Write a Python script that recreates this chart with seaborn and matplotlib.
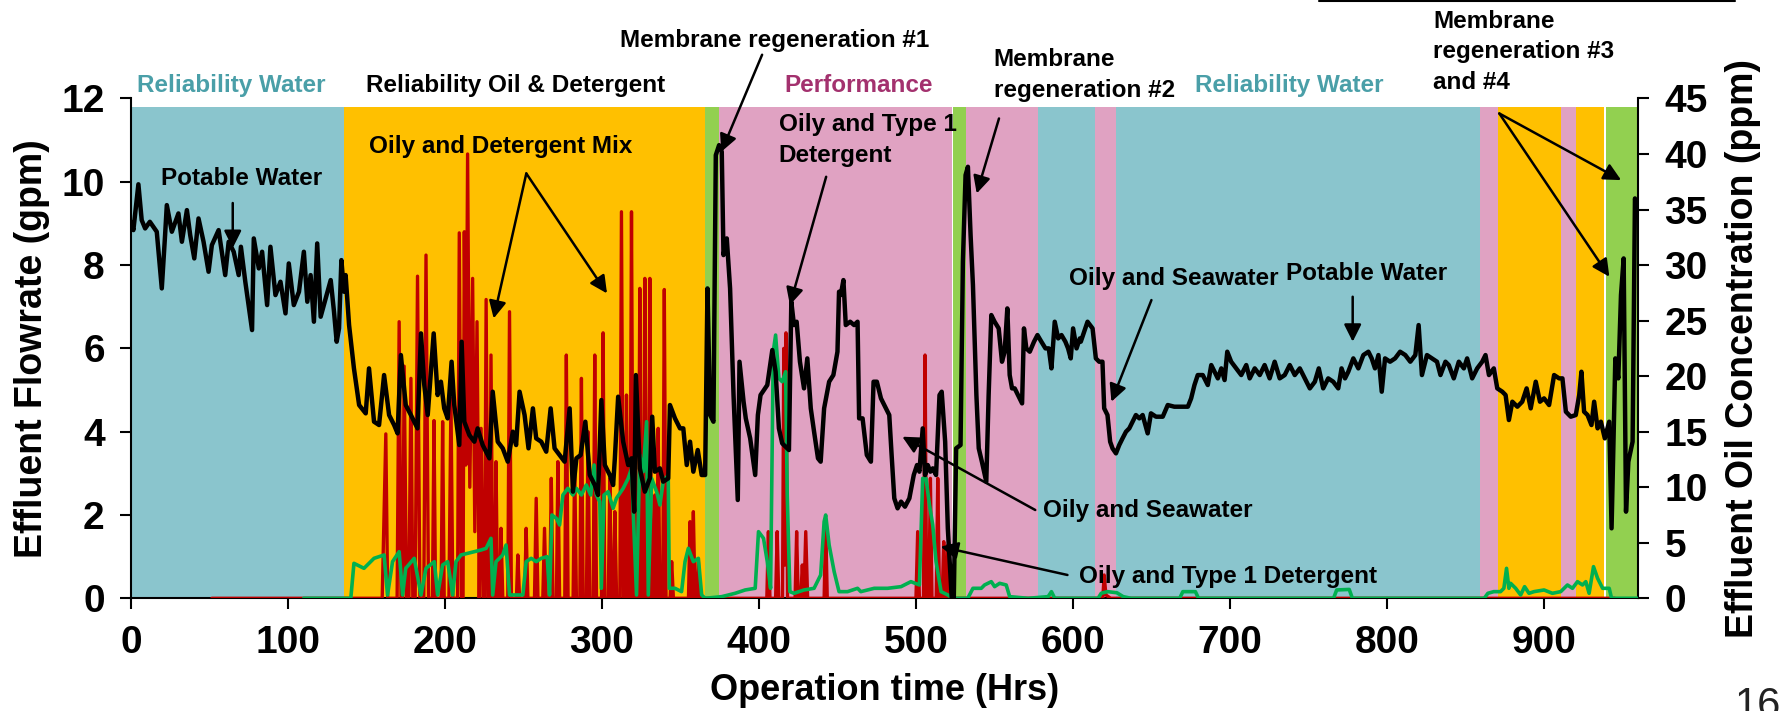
import numpy as np
import matplotlib
matplotlib.use("Agg")
import matplotlib.pyplot as plt
import seaborn as sns
from matplotlib import font_manager

# background phases (hours)
band_start = [0, 135.7, 365.7, 374.6, 523.6, 532, 577.6, 614, 627.5, 859.2, 870.9, 911, 920.3, 939.7]
band_end = [135.7, 365.7, 374.6, 523, 532, 577.6, 614, 627.5, 859.2, 870.9, 911, 920.3, 938.6, 959]
band_kind = ["water", "oil", "regen", "perf", "regen", "perf", "water", "perf", "water",
             "perf", "oil", "perf", "oil", "regen"]
band_color = {"water": "#8AC5CD", "oil": "#FFC000", "regen": "#92D050", "perf": "#E0A2C2"}

# effluent flowrate (gpm) - black
flow_t = [0, 1.5, 4.7, 6.8, 9, 12, 16.4, 19.6, 21.7, 22.8, 26, 30.2, 32.4, 35.6, 37.7, 40.3, 43, 46.2,
          49.4, 51.5, 55.8, 60, 62.2, 65.4, 68.6, 70, 72.8, 77.1, 78.2, 81.4, 83.5, 86.7, 88.8, 92,
          95.2, 98.4, 100.5, 103.7, 107, 110.1, 112.3, 114.4, 116.5, 118.6, 120.8, 124, 127.2, 129.3,
          131, 132.5, 134, 135.7, 136.7, 138.9, 142, 145.3, 149.5, 151.6, 154.8, 158, 161.2, 164.4,
          167.6, 169.8, 171.9, 175, 178.3, 182.5, 184.7, 186.8, 189, 192.8, 195.3,
          197.4, 199.5, 201.7, 204.2, 205.9, 209.1, 210.6, 212.3, 215.5, 218.7, 220.8, 224, 228.3,
          230.4, 233.6, 236.8, 240, 243.2, 245.3, 247.5, 250.7, 253.2, 256, 258.1, 261.3, 264.5,
          267.3, 269.8, 273, 276.2, 279.4, 281.5, 283.7, 286.4, 289.4, 292.2, 295.4, 297.5, 299.6,
          301.8, 305, 307.1, 308.2, 310.3, 313.5, 316.7, 318.8, 320.5, 321.6, 324.1, 327.3, 330.5,
          332, 333.7, 336.9, 339, 342.2, 343.3, 346.5, 349.7, 351.8, 354, 356.1, 358.2, 361, 363.5,
          365.7, 367.2, 368.9, 371, 372.5, 374.6, 376.3, 377.4, 379.5, 381.6, 383.8, 386.5, 387.6,
          390.2, 391.6, 394.4, 397.6, 399.3,
          401, 405.3, 408.5, 410.6, 412.7, 414.8, 419.1, 420.6, 422.3, 424, 426.1, 428.7, 430.8,
          433, 435.1, 437.6, 439.3, 441.5, 444.7, 447.4, 450, 451, 452.1, 453.8, 455.3, 458.1,
          460.6, 462.8, 463.8, 466, 468.7, 471.3, 473, 475.1, 477.7, 480.9, 483, 484.5, 486.2,
          488.3, 490.5, 493, 495.8, 498.6, 500.7, 502.2, 504.3, 505.8, 507.5, 509.2, 510.7, 512.8,
          515, 516.4, 518.6, 520.3, 522.8, 524.1, 525.6, 528.4, 529.9, 531.6, 533.1, 534.8, 536.3,
          538.5, 540, 542, 544.8, 546.3, 548, 550.1, 552.7, 554.8, 556.5, 558.2, 559.7, 561.2,
          562.9, 565, 567.6, 568.8, 570.3, 572.5, 575.2, 577.4, 579.9, 582.5, 584.6, 586.3, 588.4,
          590.6, 592.7, 595.2, 596.9, 598.6, 600.1, 602.3, 604.4,
          605, 609.3, 612.5, 614.6, 616.7, 618.8, 619.9, 622, 623.7, 625.2, 627.4, 629.5, 631.6,
          633.8, 635.9, 638, 640.1, 642.3, 644.4, 647.6, 649.7, 652.9, 657.2, 660.4, 664.6, 668.9,
          673.2, 675.3, 677.4, 679.5, 682.7, 685.9, 688.1, 690.2, 692.3, 694.5, 696.6, 698.3,
          700.8, 704, 707.2, 710.4, 712.6, 715.8, 719, 722.1, 725.3, 728.5, 731.7, 734.9, 738.1,
          741.3, 744.5, 747.7, 750.9, 754.1, 756.6, 759.4, 762.6, 765.8, 769, 771.1, 773.3, 775.4,
          778.6, 781.8, 785, 788.2, 790.3, 792.4, 794.6, 796.7, 798.8, 802, 805.2, 808.4,
          811.7, 814.9, 818.1, 820.2, 822.3, 825.5, 828.7, 831.9, 834.1, 837.3, 839.4, 842.6,
          845.8, 849, 851.1, 854.3, 857.5, 860.7, 862.8, 865, 868.1, 870.3, 873.5, 875.6, 877.7,
          879.9, 883.1, 886.2, 889, 891.6, 894.8, 897.5, 900.1, 903.3, 906.5, 909.7, 911.8, 914,
          917.1, 920.3, 922.5, 923.9, 925.6, 927.8, 930.3, 932, 934.2, 936.3, 938.8, 941.6, 943.1,
          945.5, 947.4, 949.1, 950.8, 952.3, 953.8, 956.5, 958, 959.7]
flow_gpm = [9.04, 8.84, 9.94, 9.08, 8.88, 9.04, 8.8, 7.44, 8.72, 9.44, 8.8, 9.24, 8.56, 9.32, 8.72,
            8.16, 9.12, 8.56, 7.84, 8.48, 8.84, 7.76, 8.56, 8.32, 7.76, 8.44, 7.6, 6.44, 8.64, 7.92,
            8.32, 7.04, 8.44, 7.28, 7.6, 6.84, 8.04, 7.04, 7.36, 8.32, 7.12, 7.76, 6.64, 8.52, 6.76,
            7.2, 7.64, 6.88, 6.16, 6.48, 8.12, 7.36, 7.76, 6.56, 5.52, 4.64, 4.44, 5.52, 4.24, 4.16,
            5.36, 4.4, 4.16, 3.96, 5.84, 4.64, 4.4, 4.08, 6.36, 5.12, 4.4, 6.36, 4.88,
            5.2, 4.56, 4.32, 5.68, 4.64, 3.68, 6.16, 4.24, 3.92, 3.76, 4.08, 3.68, 3.36, 4.96, 3.76,
            3.6, 3.28, 4.0, 3.68, 4.96, 4.4, 3.6, 4.56, 3.84, 3.76, 3.52, 4.56, 3.6, 3.44, 3.28,
            4.56, 2.56, 3.36, 3.44, 4.24, 2.96, 2.72, 2.48, 4.76, 3.2, 2.96, 2.72, 3.36, 4.84, 3.76,
            3.2, 3.36, 2.08, 5.36, 3.12, 2.56, 2.88, 4.36, 3.04, 3.12, 2.8, 2.88, 4.64, 4.32, 4.08,
            4.08, 3.2, 3.76, 3.04, 3.56, 2.96, 2.96, 7.44, 4.4, 4.24, 10.64, 10.88, 10.72, 8.24,
            8.64, 7.44, 4.88, 2.36, 5.68, 4.72, 4.32, 3.84, 2.96, 4.4,
            4.88, 5.12, 5.96, 5.44, 4.08, 3.72, 3.56, 7.12, 6.56, 6.64, 5.68, 5.04, 5.76, 4.56,
            4.0, 3.36, 3.28, 4.56, 5.2, 5.36, 5.92, 7.36, 7.28, 7.64, 6.56, 6.64, 6.56, 6.64, 4.32,
            4.32, 3.44, 3.28, 5.2, 5.2, 4.8, 4.56, 4.4, 3.44, 2.4, 2.16, 2.32, 2.2, 2.4, 2.96, 3.2,
            3.04, 4.08, 2.96, 3.2, 3.04, 3.12, 2.96, 4.88, 4.96, 3.76, 1.68, 0.0, 0.0, 3.6, 3.68,
            8.08, 10.16, 10.36, 8.72, 7.52, 4.88, 3.6, 3.28, 2.8, 4.88, 6.8, 6.64, 6.48, 5.68, 5.92,
            6.96, 5.36, 5.04, 5.04, 4.88, 4.68, 6.48, 6.0, 5.92, 6.16, 6.32, 6.16, 6.0, 6.0, 5.52,
            6.64, 6.24, 6.32, 6.16, 6.0, 5.76, 6.48, 6.0, 6.24,
            6.16, 6.64, 6.48, 5.76, 5.68, 5.68, 4.56, 4.4, 3.76, 3.6, 3.48, 3.68, 3.84, 4.0, 4.08,
            4.24, 4.4, 4.32, 4.4, 3.96, 4.44, 4.36, 4.36, 4.64, 4.6, 4.6, 4.6, 4.8, 5.12, 5.36,
            5.36, 5.12, 5.6, 5.44, 5.28, 5.52, 5.24, 5.92, 5.68, 5.52, 5.36, 5.6, 5.28, 5.52, 5.36,
            5.6, 5.28, 5.68, 5.28, 5.36, 5.6, 5.36, 5.52, 5.28, 5.04, 5.2, 5.52, 5.04, 5.28, 5.2,
            5.04, 5.52, 5.28, 5.44, 5.76, 5.52, 5.84, 5.92, 5.76, 5.52, 5.84, 4.96, 5.76, 5.68,
            5.76, 5.92,
            5.84, 5.68, 5.84, 6.56, 5.36, 5.84, 5.76, 5.68, 5.36, 5.68, 5.6, 5.28, 5.68, 5.52, 5.76,
            5.28, 5.52, 5.68, 5.84, 5.36, 5.52, 5.04, 4.96, 4.88, 4.28, 4.72, 4.6, 4.72, 5.04, 4.56,
            5.2, 4.72, 4.8, 4.64, 5.36, 5.28, 5.28, 4.48, 4.36, 4.4, 4.88, 5.44, 4.48, 4.4, 4.16,
            4.72, 4.08, 4.24, 3.84, 4.24, 1.68, 5.76, 5.28, 7.28, 8.16, 2.08, 3.28, 3.76, 9.6, 9.36]

# effluent oil concentration (ppm) - red
oil_t = [51.5, 160, 162.3, 163.5, 169.5, 170.8, 172, 173, 174, 175.5, 177, 178.3, 179.5, 181, 182.5,
         184, 186.5, 187.9, 189.5, 192, 193, 194, 197.5, 198.5, 199.5, 202.5, 203.8, 205, 208,
         209.1, 210.5, 211.5, 212.3, 213.3, 214.4, 215.8, 217.6, 219, 220.4, 221.8, 223, 224.2,
         225.2, 226.2, 227.4, 228.3, 229.3, 230.5, 231.5, 232.5, 233.5, 234.8, 235.7, 236.8, 240,
         241.1, 242.3, 245.5, 246.4, 247.5, 250.7, 251.7, 252.8, 257, 258.1, 259.2, 262.3, 263.4,
         264.5, 266.7, 267.7, 268.8, 271, 271.9, 273, 276.3, 277.3, 278.4, 281.6, 282.6, 283.7,
         285.9, 286.9, 288, 290.1, 291.1, 292.2, 294.4, 295.4, 296.5, 299.7, 300.7, 301.8, 304,
         305, 306, 307.2, 308.2, 309.3, 311.4, 312.4, 313.6, 314.6, 315.6, 316.7, 317.8, 318.8,
         319.9, 320.9, 322, 323.1, 324.1, 325.2, 326.3, 327.3, 328.4, 329.5, 330.5, 331.6, 332.7,
         333.7, 334.8, 335.8, 336.9, 338.7, 339.7, 340.8, 343.4, 344.4, 345.5, 355.1, 356.1,
         357.2, 358.2, 359.3, 360.4, 361.4, 362.5, 405, 406, 407, 410.6, 411.6, 412.6, 415,
         415.8, 416.5, 417.2, 418.2, 423, 424, 425, 426.6, 427.6, 428.6, 429.8, 431, 441.5,
         442.5, 443.5, 500, 501.1, 502.2, 504.8, 505.8, 506.8, 508.2, 509.2, 510.2, 512.9,
         513.9, 515, 516.7, 517.7, 518.7, 519.3, 520.3, 521.3, 619, 619.9, 621, 624, 945]
oil_ppm = [0, 0, 14.8, 0, 0, 24.9, 0, 0, 20.9, 0, 0, 19.8, 0, 0, 29.0, 0, 0, 30.9, 0, 0, 16.0, 0,
           0, 15.9, 0, 0, 18.0, 0, 0, 32.9, 0, 0, 33.0, 12.0, 40.0, 10.0, 28.8, 6.0, 24.9, 0, 15.3,
           0, 0, 26.9, 0, 0, 21.9, 0, 0, 12.3, 0, 0, 6.3, 0, 0, 25.8, 0, 0, 3.9, 0, 0, 6.3, 0, 0,
           9.0, 0, 0, 6.3, 0, 0, 10.8, 0, 0, 12.3, 0, 0, 21.9, 0, 0, 12.3, 0, 0, 19.8, 0, 0, 15.0,
           0, 0, 21.9, 0, 0, 23.9, 0, 0, 10.8, 0, 0, 7.8, 0, 0, 34.8, 0, 0, 18.3, 0, 0, 34.8, 0,
           15.3, 0, 0, 27.9, 0, 0, 28.8, 0, 0, 28.8, 0, 0, 9.3, 0, 15.3, 0, 0, 27.8, 0, 0, 3.3, 0,
           0, 6.9, 0, 7.8, 0, 0, 3.3, 0, 0, 6.0, 0, 0, 6.0, 0, 0, 22.5, 3.0, 23.9, 0, 0, 6.0, 0,
           0, 3.0, 0, 6.0, 0, 0, 6.9, 0, 0, 6.0, 0, 0, 21.9, 0, 0, 10.8, 0, 0, 10.8, 0, 0, 5.1, 0,
           0, 4.8, 0, 0, 2.1, 0.3, 0, 0]

# second concentration trace (ppm) - green
det_t = [110, 140, 142, 148.4, 154.8, 161.2, 163.4, 166.6, 170.8, 173, 175, 180.4, 184.7, 187.9,
         193.2, 195.3, 198.5, 201.7, 204.9, 207, 210.2, 214.4, 218.7, 223, 226.2, 229.3, 230.4,
         232.5, 236.8, 238.9, 241.1, 249.6, 251.7, 254.9, 258.1, 261.3, 265.1, 266.6, 268.1,
         270.9, 273, 275.1, 278.3, 281.5, 283.7, 286.9, 290, 292.8, 295, 296.4, 298.6, 299.6,
         301.3, 303.9, 307.1, 309.2, 313.5, 316.7, 318.8, 322, 324.1, 326.3, 328.4, 329.5,
         331.6, 334.8, 336.9, 339, 342.2, 342.9, 346.5, 350.7, 352.9, 355, 358.2, 361.4, 363.5,
         365.7, 376.3, 384.8, 391.2, 397.6, 399.7, 402.9, 405.3, 407.4, 409.1, 410.6, 412.7,
         414.8, 417, 418, 419.7, 422.3, 428.7, 435.1, 439.3, 441.5, 442.5, 444.7, 447.9, 451,
         456.4, 462.8, 464.9, 473.4, 481.9, 490.5, 496.8, 502.2, 504.3, 506.4, 508.6, 510.7,
         512.8, 516, 520.3, 523.5, 533, 536.3, 541.6, 543.7, 548, 550.1, 553.3, 557.5, 559.7,
         571.4, 584.2, 586.3, 588.4, 616, 618, 622, 628, 632, 637, 668, 670, 678, 680, 766, 768,
         776, 778, 862, 864.3, 868.1, 872.4, 874.5, 876.2, 877.7, 878.8, 882, 885.2, 887.7,
         890.5, 893.7, 900.1, 905.4, 910.7, 915, 918.2, 921.4, 924.6, 926.7, 928.8, 931.6,
         934.2, 937.4, 941.6, 943.1, 960]
det_ppm = [0, 0, 3.15, 2.7, 3.6, 3.9, 0.3, 3.3, 4.2, 0.3, 2.7, 3.6, 0.3, 2.7, 3.3, 0.3, 3.0, 3.3,
           0.3, 3.3, 3.9, 4.05, 4.2, 4.35, 4.5, 5.4, 0.3, 3.3, 3.9, 4.8, 0.3, 0.3, 3.3, 3.6, 3.3,
           3.6, 3.75, 0.3, 7.5, 7.2, 6.6, 9.3, 9.9, 9.3, 9.9, 9.3, 10.2, 9.3, 12.0, 9.3, 8.7, 0.9,
           9.3, 9.6, 8.1, 9.0, 9.9, 10.8, 11.7, 0.3, 12.9, 11.4, 15.9, 0.3, 10.8, 9.6, 8.4, 10.5,
           11.1, 0.9, 0.9, 0.6, 3.3, 4.5, 3.3, 3.6, 0.3, 0, 0.15, 0.45, 0.75, 0.9, 6.0, 5.4, 3.3,
           0.9, 22.2, 23.7, 19.8, 19.5, 20.4, 9.3, 0.6, 0.45, 0.75, 0.9, 2.1, 6.9, 7.5, 4.8, 2.4,
           0.6, 0.6, 0.9, 0.6, 0.9, 0.9, 1.05, 1.5, 1.2, 10.8, 10.8, 8.4, 6.6, 3.3, 0.6, 0.3, 0,
           0, 0.9, 0.9, 1.2, 1.5, 1.05, 1.35, 1.2, 0.15, 0, 0.15, 0.6, 0, 0, 0.45, 0.6, 0.5,
           0.15, 0, 0, 0.6, 0.6, 0, 0, 0.75, 0.8, 0, 0, 0.45, 0.6, 0.6, 0.9, 2.7, 0.9, 1.35, 0.9,
           0.3, 1.05, 0.45, 0.6, 0.75, 0.45, 0.6, 1.2, 0.9, 1.5, 1.2, 1.5, 0.45, 2.85, 1.8, 0.9,
           0.9, 0, 0]

PPM_PER_GPM = 45 / 12

sns.set_theme(style="ticks")
names = {f.name for f in font_manager.fontManager.ttflist}
NARROW = "Liberation Sans Narrow" if "Liberation Sans Narrow" in names else "Liberation Sans"
NOTE_SIZE = 21 if NARROW == "Liberation Sans Narrow" else 17.5
plt.rcParams["font.family"] = ["Liberation Sans", "DejaVu Sans"]
plt.rcParams["font.weight"] = "bold"
for key in ["text.color", "axes.labelcolor", "xtick.color", "ytick.color", "axes.edgecolor"]:
    plt.rcParams[key] = "black"

fig = plt.figure(figsize=(17.85, 7.11), dpi=100)
ax = fig.add_axes([0.0734, 0.1585, 0.8443, 0.703])

for s, e, k in zip(band_start, band_end, band_kind):
    ax.axvspan(s, e, ymin=0, ymax=11.8 / 12, color=band_color[k], lw=0, zorder=0)

sns.lineplot(x=oil_t, y=np.array(oil_ppm) / PPM_PER_GPM, ax=ax, color="#C00000", lw=2.4,
             estimator=None, sort=False, zorder=3)
sns.lineplot(x=det_t, y=np.array(det_ppm) / PPM_PER_GPM, ax=ax, color="#00B050", lw=2.6,
             estimator=None, sort=False, zorder=4)
sns.lineplot(x=flow_t, y=flow_gpm, ax=ax, color="black", lw=3.2,
             estimator=None, sort=False, zorder=5)

ax.set_xlim(0, 960)
ax.set_ylim(0, 12)
ax.set_xticks(range(0, 1000, 100))
ax.set_yticks(range(0, 14, 2))
ax.tick_params(axis="both", labelsize=28, length=8, width=1.5, pad=11, direction="out")
for lab in ax.get_xticklabels() + ax.get_yticklabels():
    lab.set_fontweight("bold")
for side in ["top", "right"]:
    ax.spines[side].set_visible(False)
for side in ["left", "bottom"]:
    ax.spines[side].set_linewidth(1.5)

sec = ax.secondary_yaxis("right", functions=(lambda g: g * PPM_PER_GPM, lambda p: p / PPM_PER_GPM))
sec.set_yticks(range(0, 50, 5))
sec.tick_params(labelsize=28, length=8, width=1.5, pad=11, colors="black")
sec.spines["right"].set_linewidth(1.5)
for lab in sec.get_yticklabels():
    lab.set_fontweight("bold")

ax.set_xlabel("Operation time (Hrs)", fontsize=26, fontweight="bold", labelpad=9)
ax.set_ylabel("Effluent Flowrate (gpm)", fontsize=27, fontweight="bold", labelpad=8)
sec.set_ylabel("Effluent Oil Concentration (ppm)", fontsize=27, fontweight="bold", labelpad=12)

# phase titles above the plot
tkw = dict(fontsize=NOTE_SIZE, fontweight="bold", family=NARROW, clip_on=False)
ax.text(63.7, 12.3, "Reliability Water", color="#4A9FA8", ha="center", va="center", **tkw)
ax.text(244.8, 12.3, "Reliability Oil & Detergent", color="black", ha="center", va="center", **tkw)
ax.text(463.4, 12.3, "Performance", color="#A3316E", ha="center", va="center", **tkw)
ax.text(737.6, 12.3, "Reliability Water", color="#4A9FA8", ha="center", va="center", **tkw)
ax.text(409.9, 13.4, "Membrane regeneration #1", color="black", ha="center", va="center", **tkw)
ax.text(549.5, 12.56, "Membrane\nregeneration #2", color="black", ha="left", va="center",
        linespacing=1.42, **tkw)
ax.text(829.4, 13.12, "Membrane\nregeneration #3\nand #4", color="black", ha="left", va="center",
        linespacing=1.42, **tkw)

# labels inside the plot
ax.text(70.6, 10.09, "Potable Water", ha="center", va="center", **tkw)
ax.text(235.5, 10.84, "Oily and Detergent Mix", ha="center", va="center", **tkw)
ax.text(412.6, 11.0, "Oily and Type 1\nDetergent", ha="left", va="center", linespacing=1.42, **tkw)
ax.text(580.7, 2.12, "Oily and Seawater", ha="left", va="center", **tkw)
ax.text(603.7, 0.52, "Oily and Type 1 Detergent", ha="left", va="center", **tkw)
ax.text(597.3, 7.68, "Oily and Seawater", ha="left", va="center", **tkw)
ax.text(735.6, 7.8, "Potable Water", ha="left", va="center", **tkw)

arrows = [((64.8, 9.49), (64.8, 8.41)),
          ((251.8, 10.2), (231, 6.72)),
          ((251.8, 10.2), (303.2, 7.32)),
          ((402, 13.05), (376, 10.72)),
          ((442.8, 10.12), (419.7, 7.04)),
          ((552.9, 11.52), (538.7, 9.72)),
          ((576, 2.12), (491.3, 3.88)),
          ((596.5, 0.56), (515.7, 1.24)),
          ((650, 7.16), (624.5, 4.72)),
          ((778.2, 7.24), (778.2, 6.16)),
          ((871.6, 11.64), (949.2, 10.04)),
          ((871.6, 11.64), (941.7, 7.72))]
for tail, head in arrows:
    ax.annotate("", xy=head, xytext=tail, annotation_clip=False, zorder=6,
                arrowprops=dict(arrowstyle="-|>", color="black", lw=1.8, mutation_scale=26,
                                shrinkA=0, shrinkB=0))

fig.add_artist(plt.Line2D([0.739, 0.972], [0.999, 0.999], color="black", lw=1.5))
fig.text(0.972, 0.035, "16", fontsize=30, fontweight="normal", color="#222222", va="top", ha="left")

fig.savefig("out.png", dpi=100)
